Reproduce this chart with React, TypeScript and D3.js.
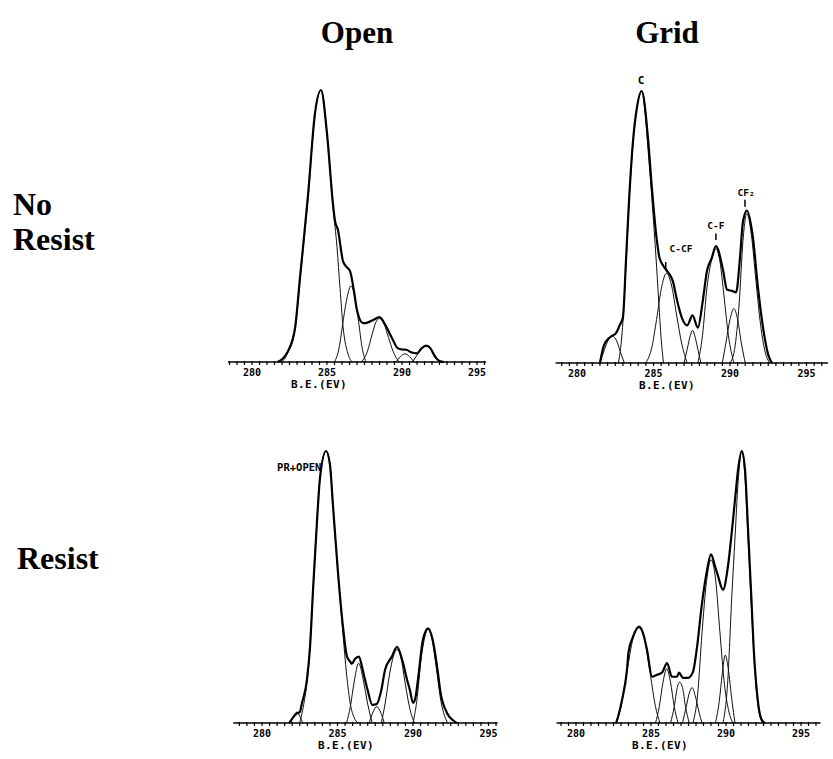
import React from 'react';
import * as d3 from 'd3';

// binding energy ticks and labels
const xTicks = [280, 285, 290, 295];
const xLabel = 'B.E.(EV)';
const colTitles = ['Open', 'Grid'];

// intensity in % of the panel maximum, [eV, %]
// Open / No Resist
const openNoEnvelope = [
  [281.7, 0], [282.0, 1], [282.4, 4], [282.87, 12.5], [283.2, 31], [283.73, 61], [284.2, 91.5],
  [284.6, 100], [285.0, 84], [285.4, 58], [285.53, 52], [285.73, 48.5], [286.07, 37], [286.3, 35],
  [286.53, 33.5], [286.8, 26], [287.0, 19], [287.4, 14.3], [287.7, 14.5], [288.1, 15.5], [288.5, 16.5],
  [288.9, 13.5], [289.33, 8.8], [289.73, 5], [290.0, 4.6], [290.3, 4.5], [290.6, 3.6], [291.0, 3.2],
  [291.3, 5], [291.6, 6], [291.9, 5], [292.2, 2], [292.5, 0.4], [292.8, 0],
];
const openNoPeaks = [
  [[282.0, 0], [282.4, 3.5], [282.87, 12], [283.2, 30], [283.73, 60], [284.2, 91], [284.6, 100],
    [285.0, 84], [285.4, 57], [285.67, 42], [285.87, 27], [286.07, 13], [286.4, 3], [286.7, 0]],
  [[285.5, 0], [285.8, 5], [286.1, 16], [286.35, 24], [286.6, 28], [286.85, 24], [287.1, 15], [287.35, 5], [287.6, 0]],
  [[287.3, 0], [287.7, 4], [288.0, 10], [288.25, 14.5], [288.5, 16], [288.8, 14], [289.1, 9], [289.4, 4], [289.8, 0]],
  [[289.6, 0], [289.9, 2], [290.2, 3], [290.5, 2], [290.8, 0]],
  [[290.7, 0], [291.0, 2.5], [291.3, 5], [291.6, 6], [291.9, 5], [292.2, 2.5], [292.5, 0]],
];

// Grid / No Resist
const gridNoEnvelope = [
  [281.5, 0], [281.76, 6.5], [282.16, 9.5], [282.55, 11], [282.8, 14], [283.0, 16.7], [283.2, 37.5],
  [283.4, 59.6], [283.66, 81.5], [283.92, 94], [284.23, 100], [284.65, 82], [284.9, 64], [285.2, 46],
  [285.4, 38.5], [285.8, 34.5], [286.27, 30], [286.5, 24], [286.85, 16.7], [287.2, 13.8], [287.55, 17.5],
  [287.9, 13], [288.2, 22], [288.5, 34], [288.8, 38.5], [289.08, 43], [289.55, 34], [289.8, 27],
  [290.13, 26.5], [290.4, 26], [290.65, 38.5], [290.85, 52], [291.1, 56], [291.5, 46], [291.83, 27.6],
  [292.16, 13], [292.5, 3], [292.75, 0],
];
const gridNoPeaks = [
  [[281.5, 0], [281.8, 5], [282.05, 8.5], [282.3, 10], [282.6, 8], [282.9, 3], [283.1, 0]],
  [[282.7, 0], [282.9, 8], [283.0, 15], [283.2, 36], [283.4, 58.5], [283.66, 81], [283.92, 94], [284.23, 100],
    [284.45, 92], [284.65, 78], [284.9, 60], [285.15, 40], [285.35, 22], [285.5, 9], [285.65, 0]],
  [[284.5, 0], [284.9, 6], [285.2, 16], [285.5, 27], [285.85, 33], [286.2, 28], [286.5, 18], [286.85, 7], [287.2, 0]],
  [[287.0, 0], [287.2, 5], [287.4, 10], [287.55, 12], [287.7, 10], [287.9, 5], [288.1, 0]],
  [[287.9, 0], [288.2, 10], [288.5, 28], [288.8, 38], [289.08, 42], [289.35, 37], [289.6, 25], [289.9, 10], [290.25, 0]],
  [[289.5, 0], [289.75, 8], [290.0, 16], [290.25, 20], [290.5, 16], [290.75, 7], [291.0, 0]],
  [[290.0, 0], [290.3, 5], [290.6, 22], [290.85, 45], [291.1, 55], [291.4, 47], [291.7, 30], [292.0, 14], [292.3, 4], [292.6, 0]],
];

// Open / Resist
const openResEnvelope = [
  [281.8, 0], [282.05, 2], [282.3, 3.5], [282.5, 4], [282.65, 7.4], [282.98, 16], [283.18, 28],
  [283.38, 49], [283.64, 74], [283.84, 90], [284.24, 100], [284.5, 95], [284.7, 80], [285.03, 55.5],
  [285.36, 35.5], [285.63, 24.4], [285.83, 22.6], [285.95, 21.8], [286.15, 23.5], [286.42, 24.4],
  [286.65, 20], [286.82, 16], [287.0, 12], [287.3, 6.7], [287.6, 7], [287.9, 12], [288.15, 19.6],
  [288.6, 24.4], [288.94, 28], [289.34, 22], [289.6, 16], [289.8, 12], [290.0, 7.4], [290.15, 9],
  [290.33, 16], [290.66, 30.7], [291.0, 34.8], [291.3, 30.7], [291.65, 18.5], [291.8, 12], [292.25, 3.7],
  [292.65, 1], [292.9, 0],
];
const openResPeaks = [
  [[281.9, 0], [282.1, 2.5], [282.3, 4], [282.5, 2.5], [282.7, 0]],
  [[282.5, 0], [282.8, 8], [282.98, 15], [283.18, 28], [283.38, 49], [283.64, 74], [283.84, 90], [284.24, 100],
    [284.5, 95], [284.7, 80], [285.03, 55], [285.36, 33], [285.6, 18], [285.85, 7], [286.1, 2], [286.35, 0]],
  [[285.6, 0], [285.85, 6], [286.1, 15], [286.4, 22], [286.7, 16], [287.0, 7], [287.3, 0]],
  [[287.1, 0], [287.35, 4], [287.6, 6], [287.85, 4], [288.1, 0]],
  [[287.9, 0], [288.15, 7], [288.45, 18], [288.7, 24.5], [288.94, 27], [289.2, 24], [289.5, 14], [289.8, 5], [290.1, 0]],
  [[290.0, 0], [290.25, 8], [290.55, 24], [290.8, 32], [291.0, 34.5], [291.25, 31], [291.55, 20], [291.85, 8], [292.3, 0]],
];

// Grid / Resist
const gridResEnvelope = [
  [282.67, 0], [282.8, 2.2], [283.07, 8.5], [283.4, 19.6], [283.5, 26], [283.8, 31.7], [284.2, 35.4],
  [284.47, 33], [284.73, 27], [285.07, 17], [285.4, 17.7], [285.73, 18.5], [286.07, 22], [286.4, 17],
  [286.73, 17], [286.87, 18.5], [287.13, 16.6], [287.47, 16.6], [287.8, 18.8], [288.07, 28], [288.4, 44],
  [288.73, 56], [289.0, 62], [289.27, 57.6], [289.47, 54], [289.8, 49], [290.13, 57.6], [290.4, 71],
  [290.6, 82], [290.8, 93], [291.05, 100], [291.27, 93], [291.47, 71], [291.7, 45], [291.85, 27],
  [292.0, 15], [292.2, 5], [292.4, 1], [292.6, 0],
];
const gridResPeaks = [
  [[282.7, 0], [283.0, 6], [283.4, 19], [283.8, 31], [284.2, 35], [284.6, 30], [284.95, 18], [285.3, 6], [285.6, 0]],
  [[285.3, 0], [285.55, 6], [285.8, 15], [286.05, 20], [286.3, 15], [286.55, 6], [286.8, 0]],
  [[286.3, 0], [286.55, 6], [286.75, 13], [286.9, 15], [287.1, 13], [287.3, 6], [287.55, 0]],
  [[287.1, 0], [287.35, 6], [287.55, 11], [287.75, 13], [287.95, 10], [288.2, 4], [288.4, 0]],
  [[287.8, 0], [288.1, 10], [288.4, 33], [288.7, 52], [289.0, 60], [289.3, 53], [289.6, 33], [289.9, 14], [290.2, 4], [290.45, 0]],
  [[289.3, 0], [289.55, 8], [289.75, 18], [289.95, 25], [290.15, 20], [290.4, 8], [290.6, 0]],
  [[289.8, 0], [290.1, 14], [290.4, 48], [290.6, 68], [290.8, 88], [291.05, 100], [291.27, 90], [291.47, 68],
    [291.7, 42], [291.85, 26], [292.0, 14], [292.2, 4], [292.45, 0]],
];

// peak annotations [text, eV, %]
const gridNoNotes = [['C', 284.18, 102.6], ['C-CF', 286.8, 40.8], ['C-F', 289.08, 49.3], ['CF\u2082', 291.05, 61.4]];
const gridNoMarks = [[285.8, 34.2, 37.1], [289.08, 45.2, 47.6], [290.98, 57.4, 60]];
const openResNotes = [['PR+OPEN', 281.0, 92.6]];

const panels = [
  { env: openNoEnvelope, peaks: openNoPeaks, x0: 252, x1: 477, base: 362, axis: [278.4, 295.6], labelX: 319, notes: [], marks: [] },
  { env: gridNoEnvelope, peaks: gridNoPeaks, x0: 577, x1: 806.5, base: 363, axis: [278.6, 296.4], labelX: 667, notes: gridNoNotes, marks: gridNoMarks },
  { env: openResEnvelope, peaks: openResPeaks, x0: 262, x1: 488.5, base: 723, axis: [278.1, 295.6], labelX: 346, notes: openResNotes, marks: [] },
  { env: gridResEnvelope, peaks: gridResPeaks, x0: 576, x1: 801, base: 723, axis: [278.7, 296.3], labelX: 660, notes: [], marks: [] },
];

const mono = 'DejaVu Sans Mono';
const serif = 'Liberation Serif';

function Panel({ p }: { p: any }) {
  const x = d3.scaleLinear().domain([280, 295]).range([p.x0, p.x1]);
  const y = d3.scaleLinear().domain([0, 100]).range([p.base, p.base - 272]);
  const line = d3.line<number[]>().x(d => x(d[0])).y(d => y(d[1])).curve(d3.curveMonotoneX);
  const minor = d3.range(Math.ceil(p.axis[0] * 2) / 2, p.axis[1], 0.5);

  return (
    <g>
      {p.peaks.map((pk: number[][], i: number) => (
        <path key={i} d={line(pk) || ''} fill="none" stroke="#111" strokeWidth={1} />
      ))}
      <path d={line(p.env) || ''} fill="none" stroke="#000" strokeWidth={2.2} strokeLinejoin="round" />
      <line x1={x(p.axis[0])} x2={x(p.axis[1])} y1={p.base} y2={p.base} stroke="#000" strokeWidth={1.6} />
      {minor.map((t: number) => (
        <line key={t} x1={x(t)} x2={x(t)} y1={p.base - 1} y2={p.base + 3} stroke="#000" strokeWidth={1.2} />
      ))}
      {xTicks.map(t => (
        <text key={t} x={x(t)} y={p.base + 14} textAnchor="middle" fontFamily={mono} fontWeight="bold" fontSize={10}>{t}</text>
      ))}
      <text x={p.labelX} y={p.base + 26} textAnchor="middle" fontFamily={mono} fontWeight="bold" fontSize={11} letterSpacing={0.4}>{xLabel}</text>
      {p.notes.map((n: any) => (
        <text key={n[0]} x={x(n[1])} y={y(n[2])} textAnchor={n[0] === 'PR+OPEN' ? 'start' : 'middle'}
          fontFamily={mono} fontWeight="bold" fontSize={n[0] === 'C' ? 11 : n[0] === 'PR+OPEN' ? 10.5 : 9.5}>{n[0]}</text>
      ))}
      {p.marks.map((m: number[], i: number) => (
        <line key={i} x1={x(m[0])} x2={x(m[0])} y1={y(m[1])} y2={y(m[2])} stroke="#000" strokeWidth={1.5} />
      ))}
    </g>
  );
}

export default function App() {
  return (
    <svg width={833} height={759} style={{ position: 'absolute', left: 0, top: 0, background: '#fff' }}>
      <rect width={833} height={759} fill="#fff" />
      <text x={357} y={43} textAnchor="middle" fontFamily={serif} fontWeight="bold" fontSize={31}>{colTitles[0]}</text>
      <text x={667} y={43} textAnchor="middle" fontFamily={serif} fontWeight="bold" fontSize={31}>{colTitles[1]}</text>
      <text x={13} y={215} fontFamily={serif} fontWeight="bold" fontSize={32}>No</text>
      <text x={13} y={250} fontFamily={serif} fontWeight="bold" fontSize={32}>Resist</text>
      <text x={17} y={569} fontFamily={serif} fontWeight="bold" fontSize={32}>Resist</text>
      {panels.map((p, i) => <Panel key={i} p={p} />)}
    </svg>
  );
}
